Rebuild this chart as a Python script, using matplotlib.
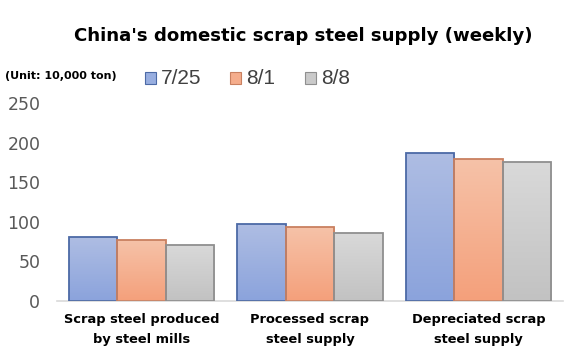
import matplotlib
matplotlib.use("Agg")
import matplotlib.pyplot as plt
import numpy as np
from matplotlib.colors import LinearSegmentedColormap
from matplotlib.patches import Rectangle

categories = ["Scrap steel produced\nby steel mills", "Processed scrap\nsteel supply", "Depreciated scrap\nsteel supply"]
series_names = ["7/25", "8/1", "8/8"]
v_0725 = [80.5, 97, 187]
v_0801 = [77, 93, 179]
v_0808 = [71, 86, 175]
values = [v_0725, v_0801, v_0808]
yticks = [0, 50, 100, 150, 200, 250]

tops = ["#aebde3", "#f6c2a8", "#d9d9d9"]
bottoms = ["#8ba3dc", "#f4a07b", "#c2c2c2"]
edges = ["#4c6aa6", "#c98060", "#8f8f8f"]
legend_faces = ["#98aee0", "#f5ad8c", "#cacaca"]

plt.rcParams['font.family'] = ['Liberation Sans', 'DejaVu Sans']
fig = plt.figure(figsize=(5.82, 3.6), dpi=100)
ax = fig.add_axes([57/582, 1-301/360, (563-57)/582, (301-103)/360])

x = np.arange(len(categories))
w = 0.287
for i, (vals, t, b, e) in enumerate(zip(values, tops, bottoms, edges)):
    bars = ax.bar(x + (i - 1) * w, vals, width=w, facecolor='none', edgecolor=e, linewidth=1.3, zorder=3)
    cmap = LinearSegmentedColormap.from_list(f"g{i}", [b, t])
    for bar in bars:
        x0, y0 = bar.get_x(), bar.get_y()
        bw, bh = bar.get_width(), bar.get_height()
        grad = np.linspace(0, 1, 100).reshape(-1, 1)
        im = ax.imshow(grad, cmap=cmap, origin='lower', aspect='auto',
                       extent=[x0, x0 + bw, y0, y0 + bh], zorder=2)
        im.set_clip_path(bar)

ax.set_xlim(-0.5, 2.5)
ax.set_ylim(0, 250)
ax.set_yticks(yticks)
ax.set_xticks(x)
ax.set_xticklabels(categories, fontsize=9.4, fontweight='bold', color='black', linespacing=1.6,
                   family='DejaVu Sans')
ax.tick_params(axis='y', length=0, pad=12, labelsize=12.5, labelcolor='#595959')
for lab in ax.get_yticklabels():
    lab.set_family('DejaVu Sans')
ax.tick_params(axis='x', length=0, pad=9)
for s in ['top', 'right', 'left']:
    ax.spines[s].set_visible(False)
ax.spines['bottom'].set_color('#d9d9d9')
ax.spines['bottom'].set_linewidth(1.2)

fig.text(303.5/582, 1-36/360, "China's domestic scrap steel supply (weekly)", ha='center', va='center',
         fontsize=13.1, fontweight='bold', color='black', family='DejaVu Sans')
fig.text(5/582, 1-76/360, "(Unit: 10,000 ton)", ha='left', va='center', fontsize=8.0, fontweight='bold',
         color='black', family='DejaVu Sans')

leg_x = [145, 230, 305]
for lx, name, f, e in zip(leg_x, series_names, legend_faces, edges):
    fig.patches.append(Rectangle((lx/582, 1-84/360), 11/582, 12/360, transform=fig.transFigure,
                                 facecolor=f, edgecolor=e, linewidth=0.8))
    fig.text((lx+16)/582, 1-78/360, name, ha='left', va='center', fontsize=15, color='#404040')

fig.savefig("out.png", dpi=100)
